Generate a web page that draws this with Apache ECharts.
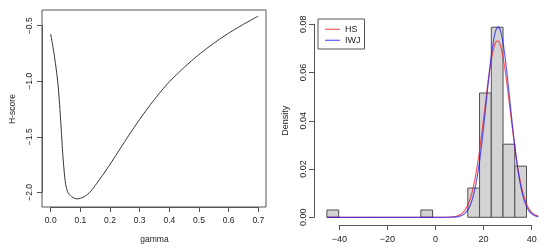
<!DOCTYPE html>
<html>
<head>
<meta charset="utf-8">
<script src="https://cdn.jsdelivr.net/npm/echarts@6/dist/echarts.min.js"></script>
<style>html,body{margin:0;padding:0;background:#fff}#c{width:550px;height:251px}</style>
</head>
<body>
<div id="c"></div>
<script>
// ---- Left panel: H-score vs gamma ----
const gammaVals = [0, 0.005, 0.01, 0.015, 0.02, 0.025, 0.03, 0.035, 0.04, 0.0425, 0.045, 0.0475, 0.05, 0.0525, 0.055, 0.06, 0.065, 0.07, 0.08, 0.09, 0.10, 0.11, 0.12, 0.13, 0.14, 0.15, 0.16, 0.17, 0.18, 0.19, 0.20, 0.225, 0.25, 0.275, 0.30, 0.325, 0.35, 0.375, 0.40, 0.425, 0.45, 0.475, 0.50, 0.525, 0.55, 0.575, 0.60, 0.625, 0.65, 0.675, 0.70];
const hScore = [-0.575, -0.65, -0.73, -0.82, -0.92, -1.04, -1.21, -1.41, -1.63, -1.72, -1.80, -1.87, -1.92, -1.955, -1.98, -2.01, -2.028, -2.04, -2.055, -2.06, -2.055, -2.045, -2.028, -2.005, -1.975, -1.94, -1.903, -1.866, -1.828, -1.789, -1.75, -1.646, -1.542, -1.441, -1.344, -1.251, -1.164, -1.081, -1.005, -0.939, -0.876, -0.816, -0.760, -0.707, -0.658, -0.611, -0.567, -0.526, -0.487, -0.45, -0.413];
const leftXTicks = [0, 0.1, 0.2, 0.3, 0.4, 0.5, 0.6, 0.7];
const leftYTicks = [-2.0, -1.5, -1.0, -0.5];

// ---- Right panel: histogram + fitted densities ----
const binStart = [-45, -5, 15, 20, 25, 30, 35];
const binEnd   = [-40, 0, 20, 25, 30, 35, 40];
const binDensity = [0.00303, 0.00303, 0.01212, 0.05152, 0.07879, 0.0303, 0.02121];
const curveX = [-45, 5, 6, 7, 8, 9, 10, 11, 12, 13, 14, 15, 16, 17, 18, 19, 20, 21, 22, 23, 24, 25, 26, 27, 28, 29, 30, 31, 32, 33, 34, 35, 36, 37, 38, 39, 40, 41, 42, 43, 44, 45];
const hsDensity = [0, 0.00001, 0.00003, 0.00006, 0.00011, 0.00022, 0.0004, 0.00071, 0.00122, 0.00202, 0.00325, 0.00505, 0.0076, 0.01104, 0.0155, 0.02107, 0.0277, 0.03516, 0.0432, 0.05126, 0.0589, 0.06532, 0.0701, 0.0728, 0.0730, 0.0708, 0.0664, 0.06026, 0.0528, 0.04481, 0.0367, 0.02912, 0.0223, 0.01654, 0.0119, 0.00821, 0.0055, 0.00356, 0.00223, 0.00135, 0.00079, 0.00045];
const iwjDensity = [0, 0, 0.00001, 0.000016, 0.000035, 0.000074, 0.00015, 0.0003, 0.00057, 0.00103, 0.00181, 0.00306, 0.00496, 0.00775, 0.01164, 0.0168, 0.0233, 0.03113, 0.0400, 0.04936, 0.0586, 0.06695, 0.0735, 0.0777, 0.0789, 0.0771, 0.0724, 0.0654, 0.0568, 0.04747, 0.0381, 0.02948, 0.0219, 0.01565, 0.01076, 0.00711, 0.00452, 0.00276, 0.00163, 0.00092, 0.0005, 0.00026];
const rightXTicks = [-40, -20, 0, 20, 40];
const rightYTicks = [0, 0.02, 0.04, 0.06, 0.08];
const seriesNames = ['HS', 'IWJ'];

const FONT = "'Liberation Sans', Arial, sans-serif";
const AX = '#555';
const TXT = '#222';
const minus = s => String(s).replace('-', '\u2212');
const RED = 'rgba(245,30,30,0.72)';
const BLUE = 'rgba(30,30,245,0.72)';

function tickAxis(extra) {
  return Object.assign({
    type: 'value',
    axisLine: {show: true, onZero: false, lineStyle: {color: AX, width: 1}},
    axisTick: {show: true, inside: false, length: 5, lineStyle: {color: AX, width: 1}},
    splitLine: {show: false},
    nameTextStyle: {fontFamily: FONT, fontSize: 8.5, color: TXT},
    nameLocation: 'middle'
  }, extra);
}

const chart = echarts.init(document.getElementById('c'), null, {renderer: 'canvas'});
chart.setOption({
  animation: false,
  backgroundColor: '#fff',
  grid: [
    {left: 42, top: 10, width: 224, height: 197, show: true, borderColor: AX, borderWidth: 1, backgroundColor: 'transparent'},
    {left: 50.7, top: 25.7, width: 207.6, height: 166.6},
    {left: 314, top: 16.6, width: 241.5, height: 208.4},
    {left: 339.3, top: 24.3, width: 192.4, height: 193}
  ],
  xAxis: [
    {type: 'value', gridIndex: 0, min: -0.0293, max: 0.7259, show: false},
    tickAxis({gridIndex: 1, min: leftXTicks[0], max: leftXTicks[leftXTicks.length - 1], interval: 0.1, offset: 14.7,
      name: 'gamma', nameGap: 28,
      axisLabel: {fontFamily: FONT, fontSize: 8.5, color: TXT, margin: 9, formatter: v => v.toFixed(1)}}),
    {type: 'value', gridIndex: 2, min: -50.5, max: 50, show: false},
    tickAxis({gridIndex: 3, min: rightXTicks[0], max: rightXTicks[rightXTicks.length - 1], interval: 20, offset: 7.7,
      axisLabel: {fontFamily: FONT, fontSize: 9, color: TXT, margin: 10, formatter: v => minus(v)}})
  ],
  yAxis: [
    {type: 'value', gridIndex: 0, min: -2.1333, max: -0.3585, show: false},
    tickAxis({gridIndex: 1, min: leftYTicks[0], max: leftYTicks[leftYTicks.length - 1], interval: 0.5, offset: 8.7,
      name: 'H-score', nameGap: 25,
      axisLabel: {fontFamily: FONT, fontSize: 8.5, color: TXT, margin: 8, rotate: 90, formatter: v => minus(v.toFixed(1))}}),
    {type: 'value', gridIndex: 2, min: -0.0032, max: 0.0832, show: false},
    tickAxis({gridIndex: 3, min: rightYTicks[0], max: rightYTicks[rightYTicks.length - 1], interval: 0.02, offset: 25.3,
      name: 'Density', nameGap: 24, nameTextStyle: {fontFamily: FONT, fontSize: 9, color: TXT},
      axisLabel: {fontFamily: FONT, fontSize: 9, color: TXT, margin: 6, rotate: 90, formatter: v => v.toFixed(2)}})
  ],
  legend: {
    data: seriesNames,
    orient: 'vertical', left: 318, top: 19,
    icon: 'rect',
    itemWidth: 15, itemHeight: 1.2, itemGap: 0,
    padding: [4.8, 4, 3.2, 7],
    borderColor: AX, borderWidth: 1, backgroundColor: '#fff',
    textStyle: {fontFamily: FONT, fontSize: 9, color: TXT, lineHeight: 11}
  },
  series: [
    {type: 'line', xAxisIndex: 0, yAxisIndex: 0, showSymbol: false, symbol: 'none', smooth: 0.25,
      data: gammaVals.map((g, i) => [g, hScore[i]]),
      lineStyle: {color: '#333', width: 1}},
    {type: 'line', xAxisIndex: 1, yAxisIndex: 1, data: [], symbol: 'none'},
    {type: 'custom', xAxisIndex: 2, yAxisIndex: 2,
      data: binStart.map((s, i) => [s, binEnd[i], binDensity[i]]),
      renderItem: function (params, api) {
        const p0 = api.coord([api.value(0), api.value(2)]);
        const p1 = api.coord([api.value(1), 0]);
        return {type: 'rect',
          shape: {x: p0[0], y: p0[1], width: p1[0] - p0[0], height: p1[1] - p0[1]},
          style: {fill: '#d3d3d3', stroke: '#505050', lineWidth: 1}};
      }},
    {name: 'HS', type: 'line', xAxisIndex: 2, yAxisIndex: 2, symbol: 'none', smooth: 0.2,
      data: curveX.map((x, i) => [x, hsDensity[i]]),
      itemStyle: {color: RED},
      lineStyle: {color: RED, width: 1.2}},
    {name: 'IWJ', type: 'line', xAxisIndex: 2, yAxisIndex: 2, symbol: 'none', smooth: 0.2,
      data: curveX.map((x, i) => [x, iwjDensity[i]]),
      itemStyle: {color: BLUE},
      lineStyle: {color: BLUE, width: 1.2}},
    {type: 'line', xAxisIndex: 3, yAxisIndex: 3, data: [], symbol: 'none'}
  ]
});
</script>
</body>
</html>
